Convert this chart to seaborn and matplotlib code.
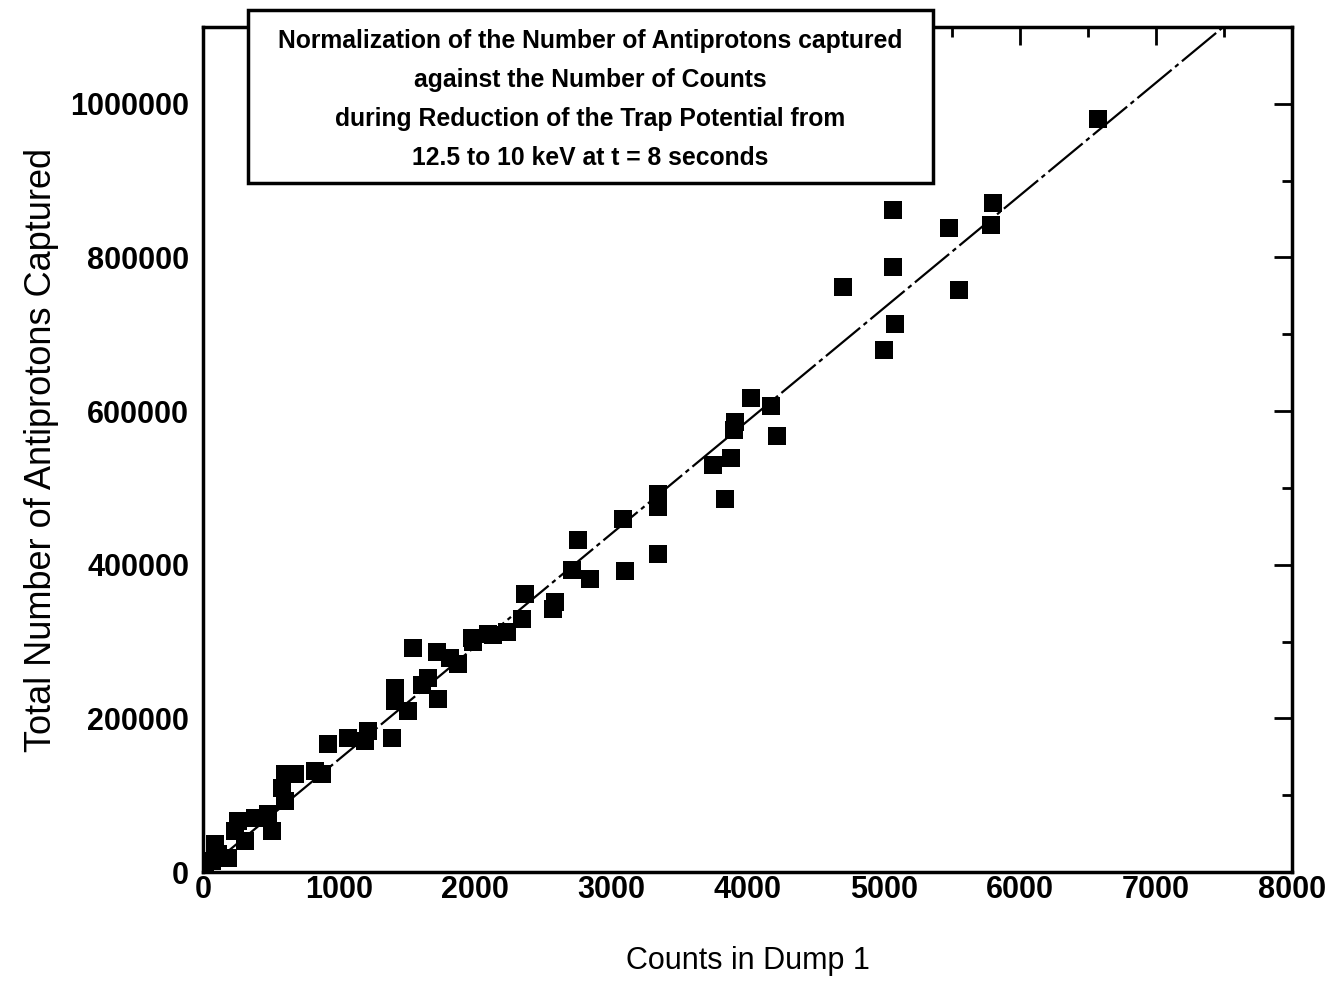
import matplotlib
matplotlib.use("Agg")
import matplotlib.pyplot as plt
import matplotlib.patches as mpatches
import seaborn as sns
import numpy as np
import pandas as pd
from matplotlib.ticker import MultipleLocator

counts = [15, 66, 88, 110, 184, 235, 257, 309, 382, 478, 507, 580, 602, 602, 676, 823, 874,
          918, 1065, 1190, 1212, 1389, 1411, 1411, 1506, 1543, 1609, 1653, 1719, 1727, 1815,
          1873, 1976, 1984, 2094, 2131, 2234, 2344, 2366, 2572, 2586, 2711, 2755, 2843, 3086,
          3100, 3343, 3343, 3343, 3747, 3835, 3880, 3909, 3900, 4026, 4173, 4217, 4702, 5004,
          5070, 5070, 5085, 5481, 5555, 5790, 5805, 6570]
captured = [10000, 14000, 36000, 23000, 18000, 53000, 66000, 40000, 70000, 75000, 53000, 109000,
            92000, 127000, 127000, 131000, 127000,
            166000, 174000, 170000, 183000, 174000, 239000, 222000, 209000, 291000, 244000,
            252000, 287000, 225000, 278000,
            271000, 304000, 300000, 310000, 309000, 313000, 330000, 362000, 343000, 352000,
            393000, 432000, 382000, 460000,
            392000, 492000, 475000, 414000, 530000, 486000, 539000, 586000, 576000, 617000,
            606000, 567000, 761000, 679000,
            787000, 862000, 713000, 839000, 758000, 842000, 871000, 980000]

fit_x = [0, 8000]
fit_slope = 146.8

x_ticks = [0, 1000, 2000, 3000, 4000, 5000, 6000, 7000, 8000]
y_ticks = [0, 200000, 400000, 600000, 800000, 1000000]

title_lines = ["Normalization of the Number of Antiprotons captured",
               "against the Number of Counts",
               "during Reduction of the Trap Potential from",
               "12.5 to 10 keV at t = 8 seconds"]

sns.set_theme(style="white")
plt.rcParams['font.family'] = ['Liberation Sans', 'DejaVu Sans']
plt.rcParams['text.color'] = 'black'
plt.rcParams['axes.labelcolor'] = 'black'
plt.rcParams['xtick.color'] = 'black'
plt.rcParams['ytick.color'] = 'black'

fig = plt.figure(figsize=(13.35, 9.86), dpi=100)
ax = fig.add_axes([0.152, 0.1156, 0.816, 0.857])

df = pd.DataFrame({"x": counts, "y": captured})
sns.scatterplot(data=df, x="x", y="y", ax=ax, marker="s", s=175, color="black",
                edgecolor="black", linewidth=0, zorder=3)

fx = np.array(fit_x, dtype=float)
fy = fit_slope * fx
sns.lineplot(x=fx, y=fy, ax=ax, color="black", linewidth=1.6, zorder=2)
ax.lines[-1].set_dashes((20, 2, 2, 2))

ax.set_xlim(0, 8000)
ax.set_ylim(0, 1100000)
ax.set_xticks(x_ticks)
ax.set_yticks(y_ticks)
ax.set_xticklabels([str(v) for v in x_ticks], fontsize=22, fontweight="bold")
ax.set_yticklabels([str(v) for v in y_ticks], fontsize=22, fontweight="bold")
ax.xaxis.set_minor_locator(MultipleLocator(500))
ax.yaxis.set_minor_locator(MultipleLocator(100000))
ax.tick_params(which="both", direction="in", top=True, right=True, color="black",
               labelcolor="black", width=2)
ax.tick_params(which="major", length=13)
ax.tick_params(axis="x", which="major", pad=2)
ax.tick_params(axis="y", which="major", pad=10)
ax.tick_params(which="minor", length=7)
for sp in ax.spines.values():
    sp.set_linewidth(2.5)
    sp.set_color("black")

ax.set_xlabel("Counts in Dump 1", fontsize=22, labelpad=30, color="black")
ax.set_ylabel("Total Number of Antiprotons Captured", fontsize=26, labelpad=8, color="black")

box = mpatches.Rectangle((0.1858, 0.8144), 0.5131, 0.1755, transform=fig.transFigure,
                         facecolor="white", edgecolor="black", linewidth=2.5, zorder=9)
fig.add_artist(box)
fig.text(0.442, 0.899, "\n".join(title_lines), ha="center", va="center", fontsize=17.8,
         fontweight="bold", linespacing=1.8, color="black", zorder=10)

fig.savefig("out.png", dpi=100, facecolor="white")
